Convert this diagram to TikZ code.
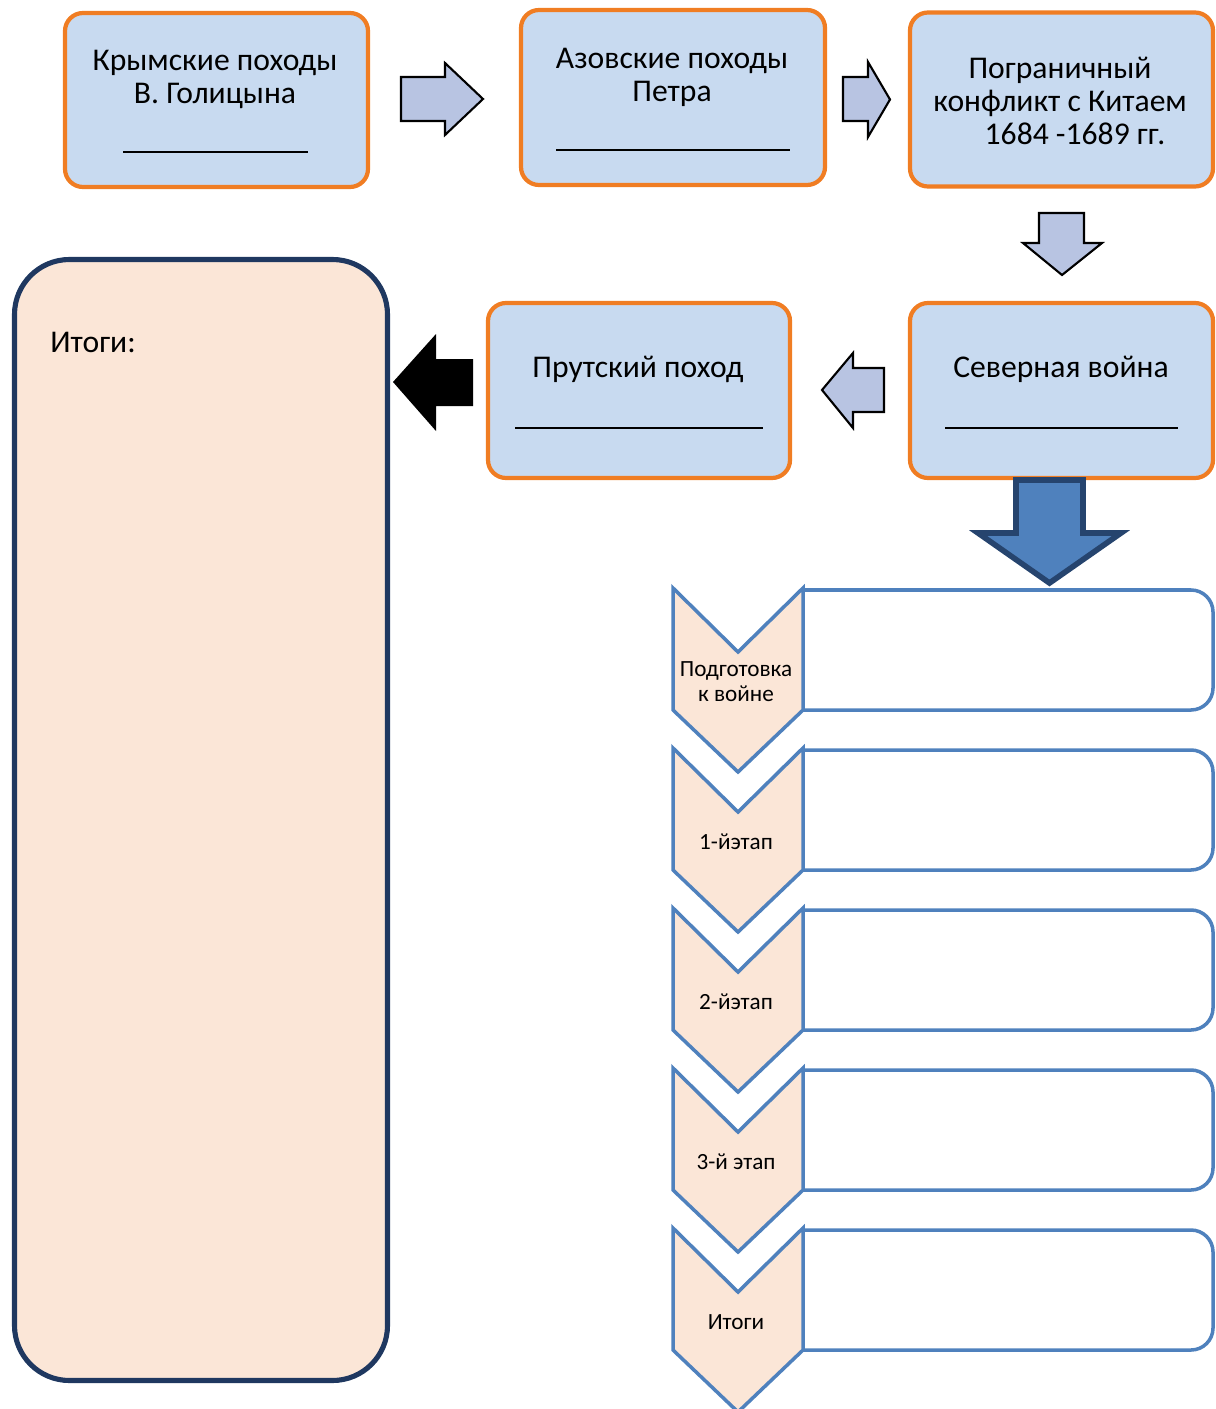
\documentclass[tikz,border=0pt]{standalone}
\usepackage{fontspec}
\setmainfont{Carlito}
\usepackage{xcolor}

\definecolor{boxorange}{RGB}{240,125,35}
\definecolor{boxblue}{RGB}{200,218,240}
\definecolor{arrowgrey}{RGB}{184,196,226}
\definecolor{peach}{RGB}{251,230,215}
\definecolor{navy}{RGB}{31,56,96}
\definecolor{stepblue}{RGB}{79,129,189}
\definecolor{stepdark}{RGB}{38,68,110}

\begin{document}
\begin{tikzpicture}[
  stagebox/.style={draw=boxorange, line width=1.2pt, fill=boxblue, rounded corners=0.18cm,
    minimum width=3.03cm, minimum height=1.74cm},
  stagetext/.style={align=center, font=\fontsize{9}{9.4}\selectfont},
  blockarrow/.style={draw=black, line width=0.6pt, fill=arrowgrey},
  steptext/.style={align=center, font=\fontsize{6.6}{7.1}\selectfont},
  stepline/.style={draw=stepblue, line width=1pt}
]

\useasboundingbox (0,0) rectangle (12.15,-14.09);

% top row
\node[stagebox] (krym) at (2.165,-1.0) {};
\node[stagetext] (krymtext) at (2.15,-0.79) {Крымские походы\\В. Голицына};
\draw[line width=0.6pt] (1.23,-1.52) -- (3.08,-1.52);

\node[stagebox, minimum width=3.04cm, minimum height=1.75cm] (azov) at (6.73,-0.975) {};
\node[stagetext] (azovtext) at (6.72,-0.77) {Азовские походы\\Петра};
\draw[line width=0.6pt] (5.56,-1.50) -- (7.90,-1.50);

\node[stagebox] (china) at (10.615,-0.995) {};
\node[stagetext] (chinatext) at (10.60,-1.01) {Пограничный\\конфликт с Китаем\\\hspace*{0.3cm}1684 -1689 гг.};

% second row
\node[stagebox, minimum height=1.75cm] (north) at (10.615,-3.905) {};
\node[stagetext] (northtext) at (10.61,-3.69) {Северная война};
\draw[line width=0.6pt] (9.45,-4.28) -- (11.78,-4.28);

\node[stagebox, minimum width=3.02cm, minimum height=1.75cm] (prut) at (6.39,-3.905) {};
\node[stagetext] (truttext) at (6.38,-3.69) {Прутский поход};
\draw[line width=0.6pt] (5.15,-4.28) -- (7.63,-4.28);

% results
\node[draw=navy, line width=1.45pt, fill=peach, rounded corners=0.55cm,
  minimum width=3.73cm, minimum height=11.21cm] (itog) at (2.01,-8.20) {};
\node[anchor=west, font=\fontsize{9}{9.4}\selectfont] (itogtext) at (0.38,-3.42) {Итоги:};

% block arrows
\draw[blockarrow] (4.01,-0.77) -- (4.45,-0.77) -- (4.45,-0.63) -- (4.83,-0.99)
  -- (4.45,-1.35) -- (4.45,-1.21) -- (4.01,-1.21) -- cycle;
\draw[blockarrow] (8.43,-0.77) -- (8.68,-0.77) -- (8.68,-0.62) -- (8.90,-0.995)
  -- (8.68,-1.37) -- (8.68,-1.21) -- (8.43,-1.21) -- cycle;
\draw[blockarrow] (10.39,-2.13) -- (10.84,-2.13) -- (10.84,-2.43) -- (11.02,-2.43)
  -- (10.62,-2.75) -- (10.23,-2.43) -- (10.39,-2.43) -- cycle;
\draw[blockarrow] (8.84,-3.68) -- (8.53,-3.68) -- (8.53,-3.53) -- (8.22,-3.90)
  -- (8.53,-4.28) -- (8.53,-4.12) -- (8.84,-4.12) -- cycle;
\fill[black] (4.73,-3.59) -- (4.36,-3.59) -- (4.36,-3.34) -- (3.93,-3.82)
  -- (4.36,-4.31) -- (4.36,-4.06) -- (4.73,-4.06) -- cycle;
\draw[draw=stepdark, line width=1.6pt, fill=stepblue] (10.16,-4.80) -- (10.83,-4.80)
  -- (10.83,-5.33) -- (11.21,-5.33) -- (10.495,-5.83) -- (9.78,-5.33) -- (10.16,-5.33) -- cycle;

% stages of the war
\foreach \i/\txt in {0/Подготовка\\к войне,1/1-йэтап,2/2-йэтап,3/3-й этап,4/Итоги} {
  \draw[stepline, rounded corners=0.22cm] (8.03,{-5.90-1.6*\i}) -- (12.13,{-5.90-1.6*\i})
    -- (12.13,{-7.10-1.6*\i}) -- (8.03,{-7.10-1.6*\i});
  \draw[stepline, fill=peach, line join=miter] (6.73,{-5.88-1.6*\i}) -- (7.38,{-6.52-1.6*\i})
    -- (8.03,{-5.88-1.6*\i}) -- (8.03,{-7.10-1.6*\i}) -- (7.38,{-7.72-1.6*\i})
    -- (6.73,{-7.10-1.6*\i}) -- cycle;
  \node[steptext] (steplbl\i) at (7.36,{-6.82-1.6*\i}) {\txt};
}

\end{tikzpicture}
\end{document}
